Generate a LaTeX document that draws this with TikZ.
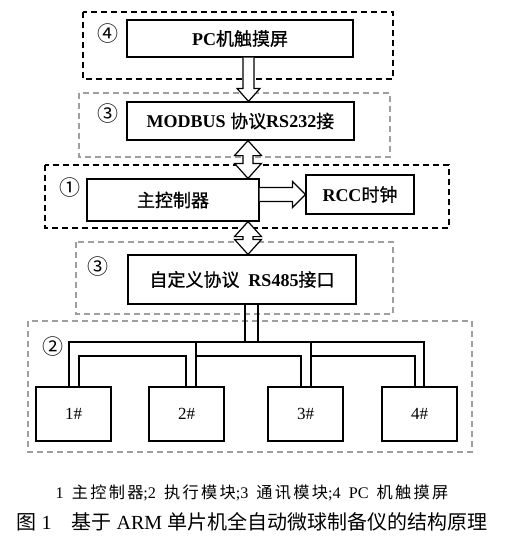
\documentclass[tikz,border=0pt]{standalone}
\usepackage{fontspec}
\setmainfont{Liberation Serif}
\newfontfamily\cjk{Noto Sans CJK SC}
\newfontfamily\cjkmid[FakeBold=0.8]{Noto Sans CJK SC}
\newfontfamily\cjkwide[LetterSpace=14]{Noto Sans CJK SC}
\newcommand{\zh}[1]{{\cjk\mdseries #1}}
\newcommand{\zhb}[1]{{\cjkmid\mdseries #1}}
\newcommand{\zhw}[1]{{\cjkwide #1}}
\usetikzlibrary{calc, positioning}

\tikzset{
  modbox/.style={draw, line width=1.2pt, minimum width=#1, inner sep=0pt, font=\bfseries\fontsize{18}{20}\selectfont},
  devbox/.style={draw, line width=1.2pt, minimum width=75pt, minimum height=54pt, inner sep=0pt, font=\fontsize{17}{20}\selectfont},
  grpblack/.style={line width=1.2pt, dash pattern=on 6pt off 4pt},
  grpgray/.style={line width=1.1pt, gray!75, dash pattern=on 6pt off 4pt},
  circnum/.style={font=\cjk\fontsize{21}{22}\selectfont},
  hollow/.style={line width=1.2pt, fill=white},
  bus/.style={line width=1.3pt}
}

\begin{document}
\begin{tikzpicture}[x=1pt, y=1pt]
                    \useasboundingbox (0,0) rectangle (509,-543);
                    % Group boxes
                    \draw[grpblack] (83,-12) rectangle (393,-79);
                    \draw[grpgray] (79,-93) rectangle (390,-157);
                    \draw[grpblack] (45,-165) rectangle (449,-228);
                    \draw[grpgray] (76,-242) rectangle (393,-314);
                    \draw[grpgray] (28,-321) rectangle (472,-452);
                    % Group numbers
                    \node[circnum] (lab4) at (108,-34) {④};
                    \node[circnum] (lab3a) at (108,-114) {③};
                    \node[circnum] (lab1) at (70,-188) {①};
                    \node[circnum] (lab3b) at (98,-267) {③};
                    \node[circnum] (lab2) at (53,-347) {②};
                    % Modules
                    \node[modbox=226pt, minimum height=37pt] (pc) at (240,-38.5) {PC\zhb{机触摸屏}};
                    \node[modbox=227pt, minimum height=38pt] (modbus) at (240.5,-121) {MODBUS \zhb{协议}RS232\zhb{接}};
                    \node[modbox=172pt, minimum height=42pt] (main) at (173,-200) {\zhb{主控制器}};
                    \node[modbox=108pt, minimum height=39pt] (rcc) at (360,-194.5) {RCC\zhb{时钟}};
                    \node[modbox=228pt, minimum height=49pt] (rs485) at (242,-279.5) {\zhb{自定义协议}\ \ RS485\zhb{接口}};
                    % Execution units
                    \node[devbox] (d1) at (73.5,-414) {1\#};
                    \node[devbox] (d2) at (186.5,-414) {2\#};
                    \node[devbox] (d3) at (305.5,-414) {3\#};
                    \node[devbox] (d4) at (419.5,-414) {4\#};
                    % Hollow arrows
                    \coordinate (ax) at (248.5,0);
                    \coordinate (bx) at (248,0);
                    \draw[hollow] let \p1=(pc.south -| ax), \p2=(modbus.north -| ax) in
                      (\x1-5.5pt,\y1) -- (\x1-5.5pt,\y2+13pt) -- (\x1-11.5pt,\y2+13pt) -- (\x2,\y2)
                      -- (\x1+11.5pt,\y2+13pt) -- (\x1+5.5pt,\y2+13pt) -- (\x1+5.5pt,\y1);
                    \draw[hollow] let \p1=(modbus.south -| bx), \p2=(main.north -| bx) in
                      (\x1,\y1) -- (\x1-13.5pt,\y1-15pt) -- (\x1-5pt,\y1-15pt) -- (\x1-5pt,\y2+15pt)
                      -- (\x1-13.5pt,\y2+15pt) -- (\x2,\y2) -- (\x1+13.5pt,\y2+15pt) -- (\x1+5pt,\y2+15pt)
                      -- (\x1+5pt,\y1-15pt) -- (\x1+13.5pt,\y1-15pt) -- cycle;
                    \draw[hollow] let \p1=(main.south -| bx), \p2=(rs485.north -| bx) in
                      (\x1,\y1) -- (\x1-13.5pt,\y1-15pt) -- (\x1-5pt,\y1-15pt) -- (\x1-5pt,\y2+15pt)
                      -- (\x1-13.5pt,\y2+15pt) -- (\x2,\y2) -- (\x1+13.5pt,\y2+15pt) -- (\x1+5pt,\y2+15pt)
                      -- (\x1+5pt,\y1-15pt) -- (\x1+13.5pt,\y1-15pt) -- cycle;
                    \draw[hollow] let \p1=(main.east |- rcc.west), \p2=(rcc.west) in
                      (\x1,\y1+7pt) -- (\x2-13pt,\y1+7pt) -- (\x2-13pt,\y1+13pt) -- (\x2,\y1)
                      -- (\x2-13pt,\y1-13pt) -- (\x2-13pt,\y1-7pt) -- (\x1,\y1-7pt);
                    % Bus lines
                    \coordinate (busy) at (0,-342);
                    \coordinate (inny) at (0,-356);
                    \draw[bus] ([xshift=3pt]rs485.south) -- ([xshift=3pt]rs485.south |- busy);
                    \draw[bus] ([xshift=16pt]rs485.south) -- ([xshift=16pt]rs485.south |- busy);
                    \draw[bus] ([xshift=-4.5pt]d1.north) |- ([xshift=4.5pt]d4.north |- busy) -- ([xshift=4.5pt]d4.north);
                    \draw[bus] ([xshift=9.5pt]d2.north) -- ([xshift=9.5pt]d2.north |- busy);
                    \draw[bus] ([xshift=5.5pt]d3.north) -- ([xshift=5.5pt]d3.north |- busy);
                    \draw[bus] ([xshift=5.5pt]d1.north) |- ([xshift=-0.5pt]d2.north |- inny) -- ([xshift=-0.5pt]d2.north);
                    \draw[bus] ([xshift=10.5pt]d2.north |- inny) -| ([xshift=-4.5pt]d3.north);
                    \draw[bus] ([xshift=5.5pt]d3.north |- inny) -| ([xshift=-4.5pt]d4.north);
                    % Caption
                    \node[font=\fontsize{16.2}{18}\selectfont] (legend) at (252,-493)
                      {1\enspace\zhw{主控制器};2\enspace\zhw{执行模块};3\enspace\zhw{通讯模块};4\enspace PC\enspace\zhw{机触摸屏}};
                    \node[font=\fontsize{20}{22}\selectfont] (caption) at (252,-522)
                      {\zh{图} 1\quad\zh{基于} ARM \zh{单片机全自动微球制备仪的结构原理}};
                \end{tikzpicture}
\end{document}
